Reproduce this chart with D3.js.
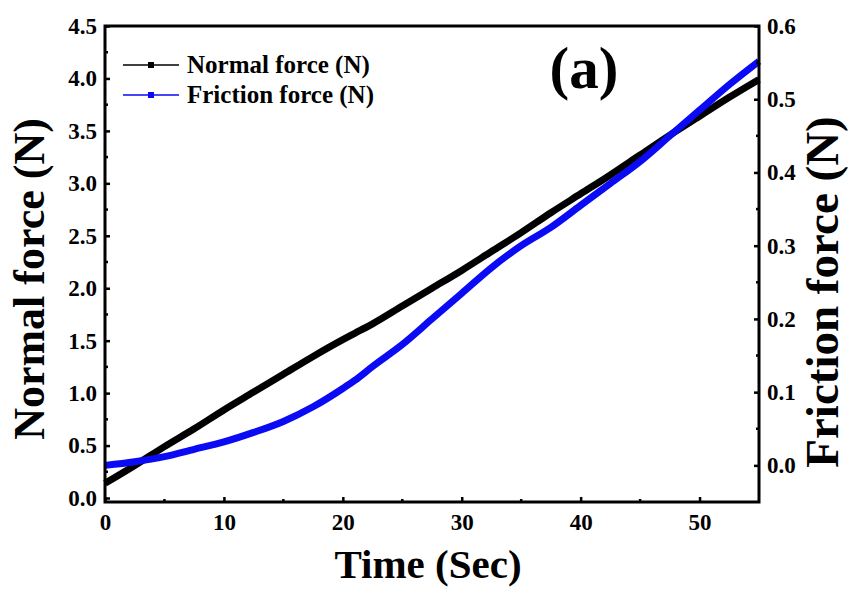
<!DOCTYPE html>
<html>
<head>
<meta charset="utf-8">
<script src="https://cdn.jsdelivr.net/npm/d3@7"></script>
<style>
  body { margin: 0; background: #fff; }
  svg { display: block; font-family: "Liberation Serif", "Times New Roman", serif; font-weight: bold; }
</style>
</head>
<body>
<div id="chart"></div>
<script>
// time samples (s)
const time = [0, 2.5, 5, 7.5, 10, 12.5, 15, 17.5, 20, 21, 22.5, 25, 27.5, 30, 32.5, 35, 37.5, 40, 42.5, 45, 47.5, 50, 52.5, 55];
// normal force (N), left axis
const normalForce = [0.14, 0.31, 0.49, 0.66, 0.84, 1.01, 1.18, 1.35, 1.51, 1.57, 1.66, 1.83, 2.00, 2.17, 2.35, 2.53, 2.72, 2.90, 3.08, 3.27, 3.46, 3.64, 3.82, 3.99];
// friction force (N), right axis
const frictionForce = [0.0, 0.005, 0.012, 0.022, 0.032, 0.045, 0.060, 0.080, 0.105, 0.116, 0.135, 0.165, 0.200, 0.235, 0.270, 0.300, 0.325, 0.355, 0.385, 0.415, 0.450, 0.485, 0.520, 0.552];

const xTicks = [0, 10, 20, 30, 40, 50];
const leftTicks = [0, 0.5, 1, 1.5, 2, 2.5, 3, 3.5, 4, 4.5];
const rightTicks = [0, 0.1, 0.2, 0.3, 0.4, 0.5, 0.6];

const W = 848, H = 601;
const plot = { left: 105, right: 759, top: 26, bottom: 502 };

const x = d3.scaleLinear().domain([0, 55]).range([plot.left, plot.right]);
const yL = d3.scaleLinear().domain([-0.038, 4.5]).range([plot.bottom, plot.top]);
const yR = d3.scaleLinear().domain([-0.05, 0.6]).range([plot.bottom, plot.top]);

const svg = d3.select("#chart").append("svg")
  .attr("width", W)
  .attr("height", H);

// curves
const lineN = d3.line().x((d, i) => x(time[i])).y(d => yL(d)).curve(d3.curveMonotoneX);
const lineF = d3.line().x((d, i) => x(time[i])).y(d => yR(d)).curve(d3.curveMonotoneX);

svg.append("path")
  .attr("d", lineN(normalForce))
  .attr("fill", "none")
  .attr("stroke", "#000")
  .attr("stroke-width", 7);

svg.append("path")
  .attr("d", lineF(frictionForce))
  .attr("fill", "none")
  .attr("stroke", "#0a0af5")
  .attr("stroke-width", 7);

// axes (ticks inward)
const bottomAxis = d3.axisBottom(x).tickValues(xTicks).tickSize(-5).tickPadding(12).tickFormat(d3.format("d"));
const leftAxis = d3.axisLeft(yL).tickValues(leftTicks).tickSize(-5).tickPadding(8).tickFormat(d3.format(".1f"));
const rightAxis = d3.axisRight(yR).tickValues(rightTicks).tickSize(-5).tickPadding(8).tickFormat(d3.format(".1f"));

function styleAxis(g) {
  g.select(".domain").remove();
  g.selectAll(".tick line").attr("stroke", "#000").attr("stroke-width", 2.5);
  g.selectAll(".tick text")
    .attr("fill", "#000")
    .style("font-size", "23px")
    .style("font-weight", "bold")
    .style("font-family", "'Liberation Serif', serif");
}

// minor ticks
const minorX = d3.range(5, 55, 10);
const minorL = d3.range(0.25, 4.5, 0.5);
const minorR = d3.range(-0.05, 0.6, 0.1).filter(v => v > -0.04);

svg.append("g").selectAll("line").data(minorX).join("line")
  .attr("x1", d => x(d)).attr("x2", d => x(d))
  .attr("y1", plot.bottom).attr("y2", plot.bottom - 3)
  .attr("stroke", "#000").attr("stroke-width", 2.5);
svg.append("g").selectAll("line").data(minorL).join("line")
  .attr("y1", d => yL(d)).attr("y2", d => yL(d))
  .attr("x1", plot.left).attr("x2", plot.left + 3)
  .attr("stroke", "#000").attr("stroke-width", 2.5);
svg.append("g").selectAll("line").data(minorR).join("line")
  .attr("y1", d => yR(d)).attr("y2", d => yR(d))
  .attr("x1", plot.right).attr("x2", plot.right - 3)
  .attr("stroke", "#000").attr("stroke-width", 2.5);

svg.append("g").attr("transform", `translate(0,${plot.bottom})`).call(bottomAxis).call(styleAxis);
svg.append("g").attr("transform", `translate(${plot.left},0)`).call(leftAxis).call(styleAxis);
svg.append("g").attr("transform", `translate(${plot.right},0)`).call(rightAxis).call(styleAxis);

// frame
svg.append("rect")
  .attr("x", plot.left).attr("y", plot.top)
  .attr("width", plot.right - plot.left).attr("height", plot.bottom - plot.top)
  .attr("fill", "none").attr("stroke", "#000").attr("stroke-width", 3);

// axis titles
svg.append("text")
  .attr("x", (plot.left + plot.right) / 2 - 4).attr("y", 578)
  .attr("text-anchor", "middle")
  .style("font-size", "41px")
  .text("Time (Sec)");

svg.append("text")
  .attr("transform", "translate(44,279) rotate(-90)")
  .attr("text-anchor", "middle")
  .style("font-size", "44px")
  .text("Normal force (N)");

svg.append("text")
  .attr("transform", "translate(838,292) rotate(-90)")
  .attr("text-anchor", "middle")
  .style("font-size", "47px")
  .text("Friction force (N)");

// panel label
svg.append("text")
  .attr("x", 584).attr("y", 88)
  .attr("text-anchor", "middle")
  .style("font-size", "59px")
  .text("(a)");

// legend
const legend = [
  { name: "Normal force (N)", color: "#000" },
  { name: "Friction force (N)", color: "#0a0af5" }
];
const lg = svg.append("g").selectAll("g").data(legend).join("g")
  .attr("transform", (d, i) => `translate(123,${65 + i * 30})`);
lg.append("line")
  .attr("x1", 0).attr("x2", 56).attr("y1", 0).attr("y2", 0)
  .attr("stroke", d => d.color).attr("stroke-width", 1.5);
lg.append("rect")
  .attr("x", 25).attr("y", -3).attr("width", 6).attr("height", 6)
  .attr("fill", d => d.color);
lg.append("text")
  .attr("x", 64).attr("y", 8)
  .style("font-size", "25px")
  .text(d => d.name);
</script>
</body>
</html>
